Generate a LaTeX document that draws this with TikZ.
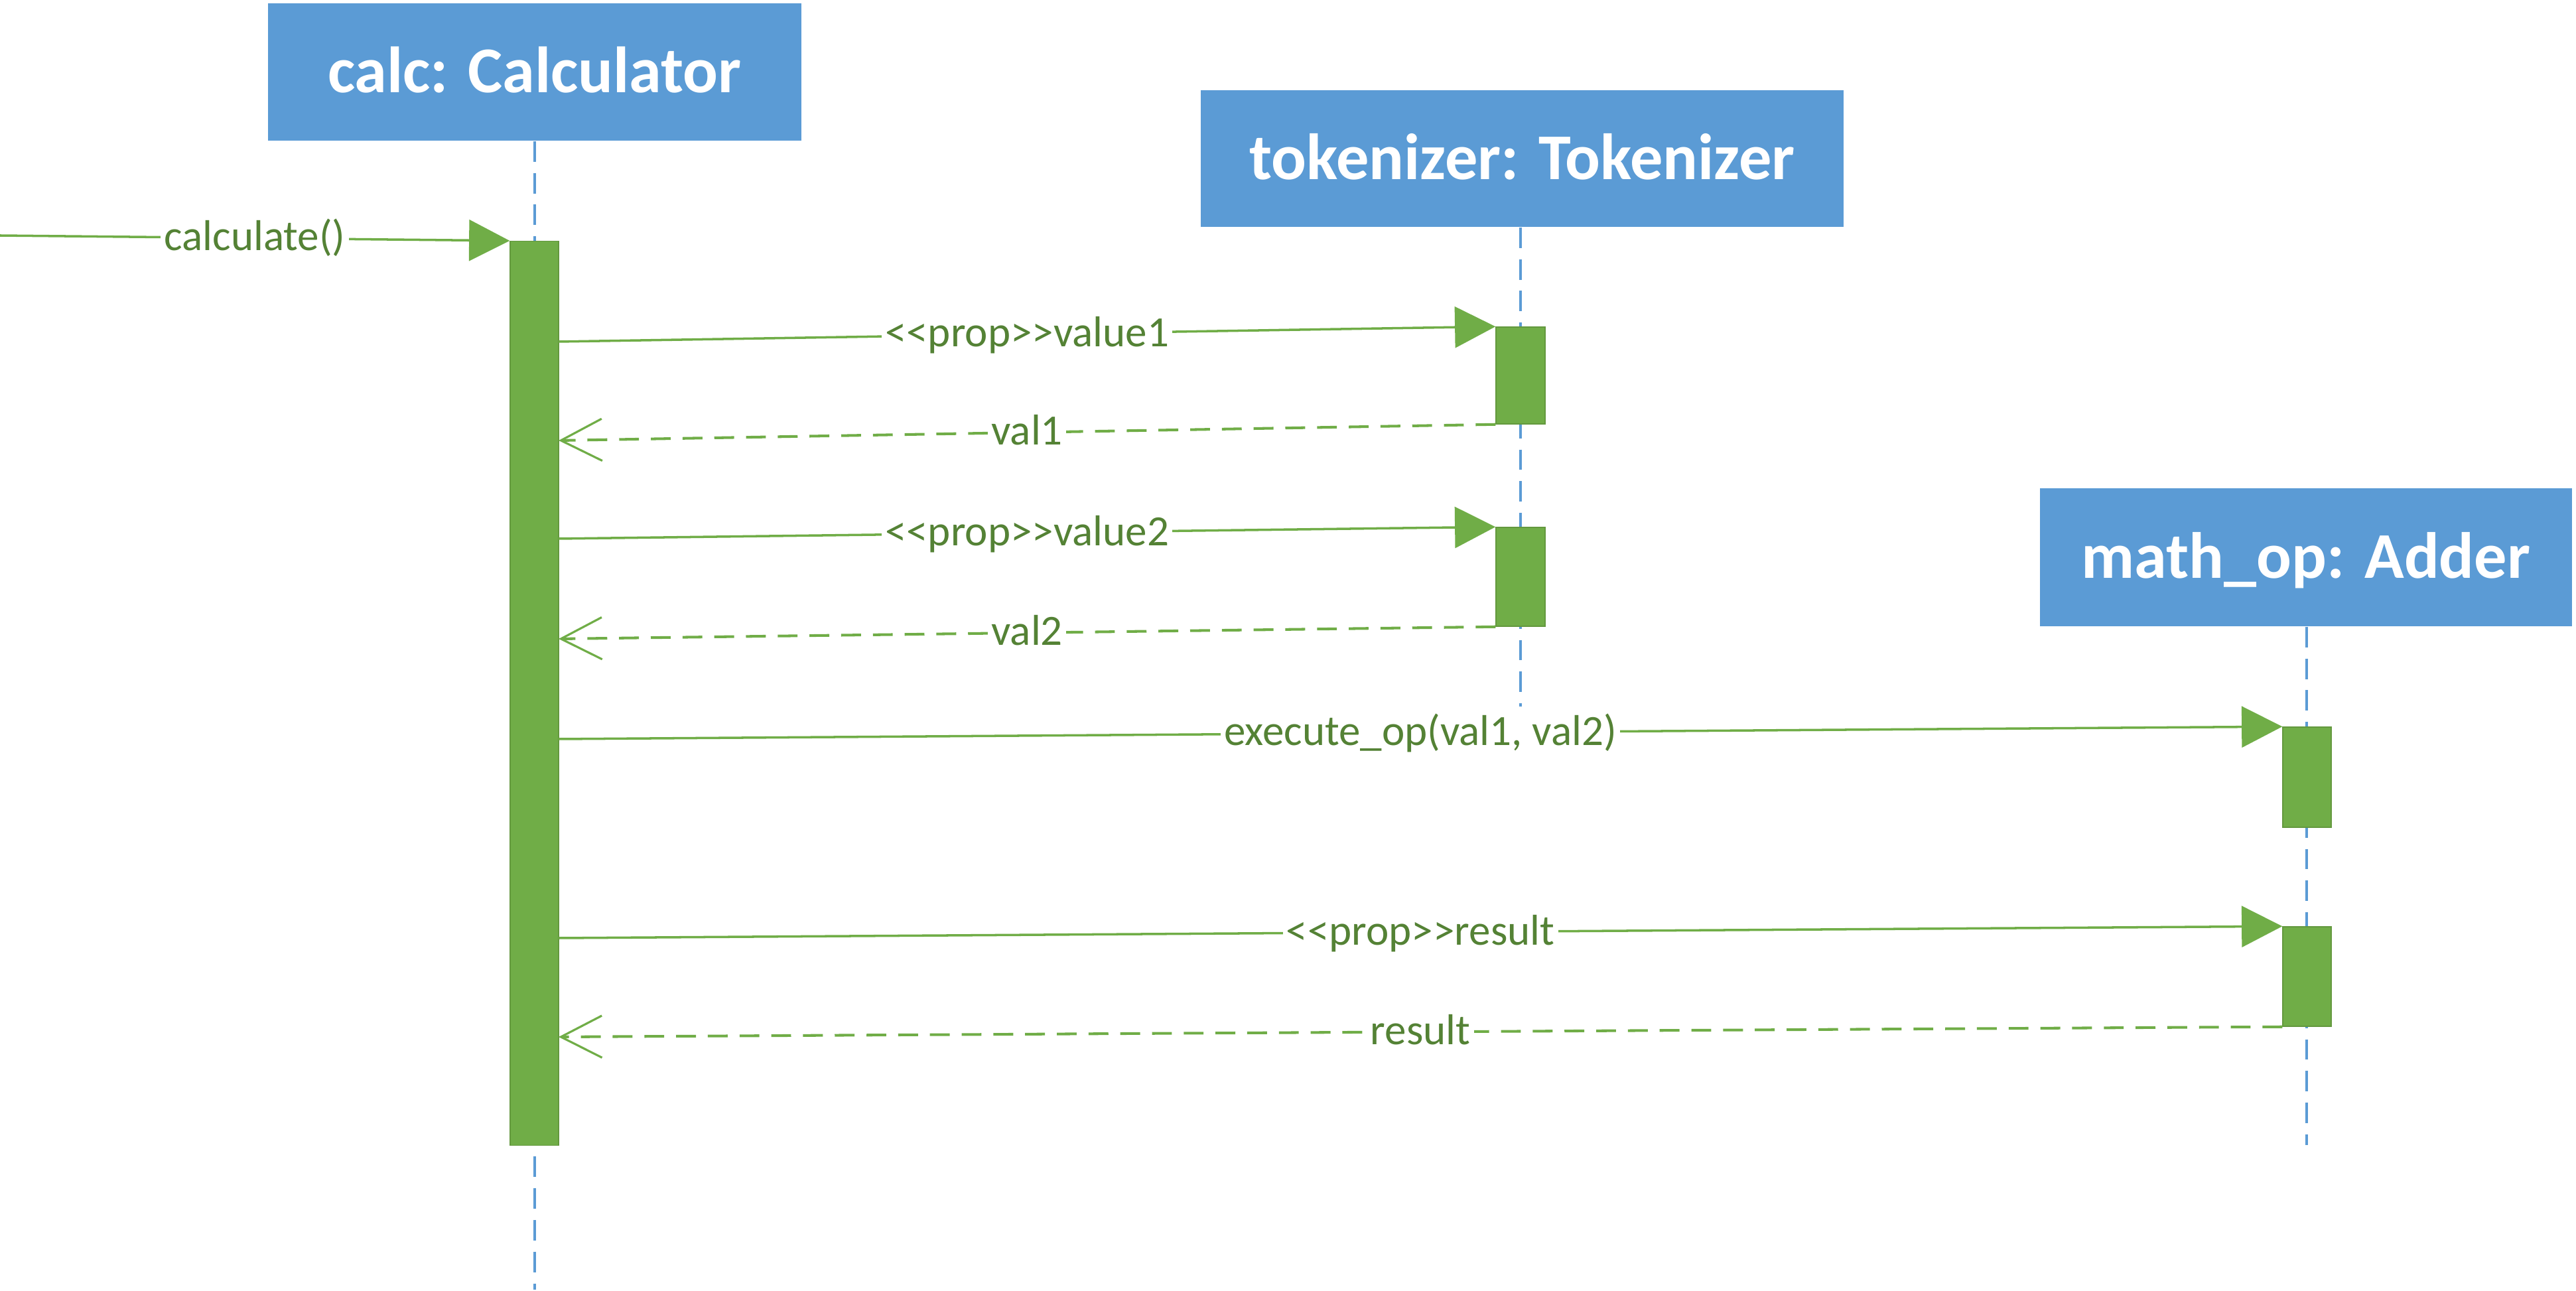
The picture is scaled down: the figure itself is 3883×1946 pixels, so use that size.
\documentclass[tikz,border=0pt]{standalone}
\usepackage{fontspec}
\setmainfont{Carlito}
\newfontfamily\lblfont{Carlito}
\usetikzlibrary{arrows.meta}
\definecolor{boxblue}{HTML}{5B9BD5}
\definecolor{actgreen}{HTML}{70AD47}
\definecolor{txtgreen}{HTML}{548235}
\begin{document}
\begin{tikzpicture}[x=0.01cm, y=-0.01cm,
  objbox/.style={fill=boxblue, draw=none, text=white, inner sep=0pt,
    font=\lblfont\fontsize{28}{34}\selectfont\bfseries, text height=17.8pt, text depth=0pt},
  actbar/.style={fill=actgreen, draw=actgreen!88!black, line width=0.4pt, inner sep=0pt},
  lifeline/.style={draw=boxblue, line width=1pt, dash pattern=on 8.8pt off 4.8pt},
  callmsg/.style={draw=actgreen, line width=1pt,
    -{Triangle[length=17.4pt, width=17.6pt, fill=actgreen]}},
  retmsg/.style={draw=actgreen, line width=1.15pt, dash pattern=on 8.5pt off 5.1pt,
    -{Straight Barb[length=17.6pt, width=18pt, line width=0.9pt]}},
  msglbl/.style={fill=white, text=txtgreen, font=\lblfont\fontsize{18.5}{22}\selectfont,
    inner xsep=1.5pt, inner ysep=1pt, anchor=base, yshift=-5.4pt}]
\useasboundingbox (0,0) rectangle (3883,1946);

% objects
\node[objbox, minimum width=8.04cm, minimum height=2.07cm] (calc) at (806,108.5) {calc: Calculator};
\node[objbox, minimum width=9.69cm, minimum height=2.06cm] (tok) at (2294.5,239) {tokenizer: Tokenizer};
\node[objbox, minimum width=8.02cm, minimum height=2.08cm] (math) at (3476,840) {math\_op: Adder};

% lifelines
\coordinate (cend) at (806,1944);
\coordinate (tend) at (2292,1065);
\coordinate (mend) at (3477,1726);
\draw[lifeline] (calc.south) -- (cend);
\draw[lifeline] (tok.south -| tend) -- (tend);
\draw[lifeline] (math.south -| mend) -- (mend);

% activation bars
\node[actbar, minimum width=0.73cm, minimum height=13.62cm] (cact) at (805.5,1045) {};
\node[actbar, minimum width=0.74cm, minimum height=1.46cm] (ta1) at (2292,566) {};
\node[actbar, minimum width=0.74cm, minimum height=1.49cm] (ta2) at (2292,869.5) {};
\node[actbar, minimum width=0.73cm, minimum height=1.51cm] (ma1) at (3477.5,1171.5) {};
\node[actbar, minimum width=0.73cm, minimum height=1.50cm] (ma2) at (3477.5,1472) {};

% message end points on the calc bar
\coordinate (s0) at (0,355);
\coordinate (c1) at (842,515);
\coordinate (c2) at (842,664);
\coordinate (c3) at (842,812);
\coordinate (c4) at (842,963);
\coordinate (c5) at (842,1114);
\coordinate (c6) at (842,1414);
\coordinate (c7) at (842,1563);

% messages
\draw[callmsg] (s0) -- node[msglbl]{calculate()} (cact.north west);
\draw[callmsg] (c1) -- node[msglbl]{<\kern0pt<prop>\kern0pt>value1} (ta1.north west);
\draw[retmsg] (ta1.south west) -- node[msglbl]{val1} (c2);
\draw[callmsg] (c3) -- node[msglbl]{<\kern0pt<prop>\kern0pt>value2} (ta2.north west);
\draw[retmsg] (ta2.south west) -- node[msglbl]{val2} (c4);
\draw[callmsg] (c5) -- node[msglbl]{execute\_op(val1, val2)} (ma1.north west);
\draw[callmsg] (c6) -- node[msglbl]{<\kern0pt<prop>\kern0pt>result} (ma2.north west);
\draw[retmsg] (ma2.south west) -- node[msglbl]{result} (c7);
\end{tikzpicture}
\end{document}
